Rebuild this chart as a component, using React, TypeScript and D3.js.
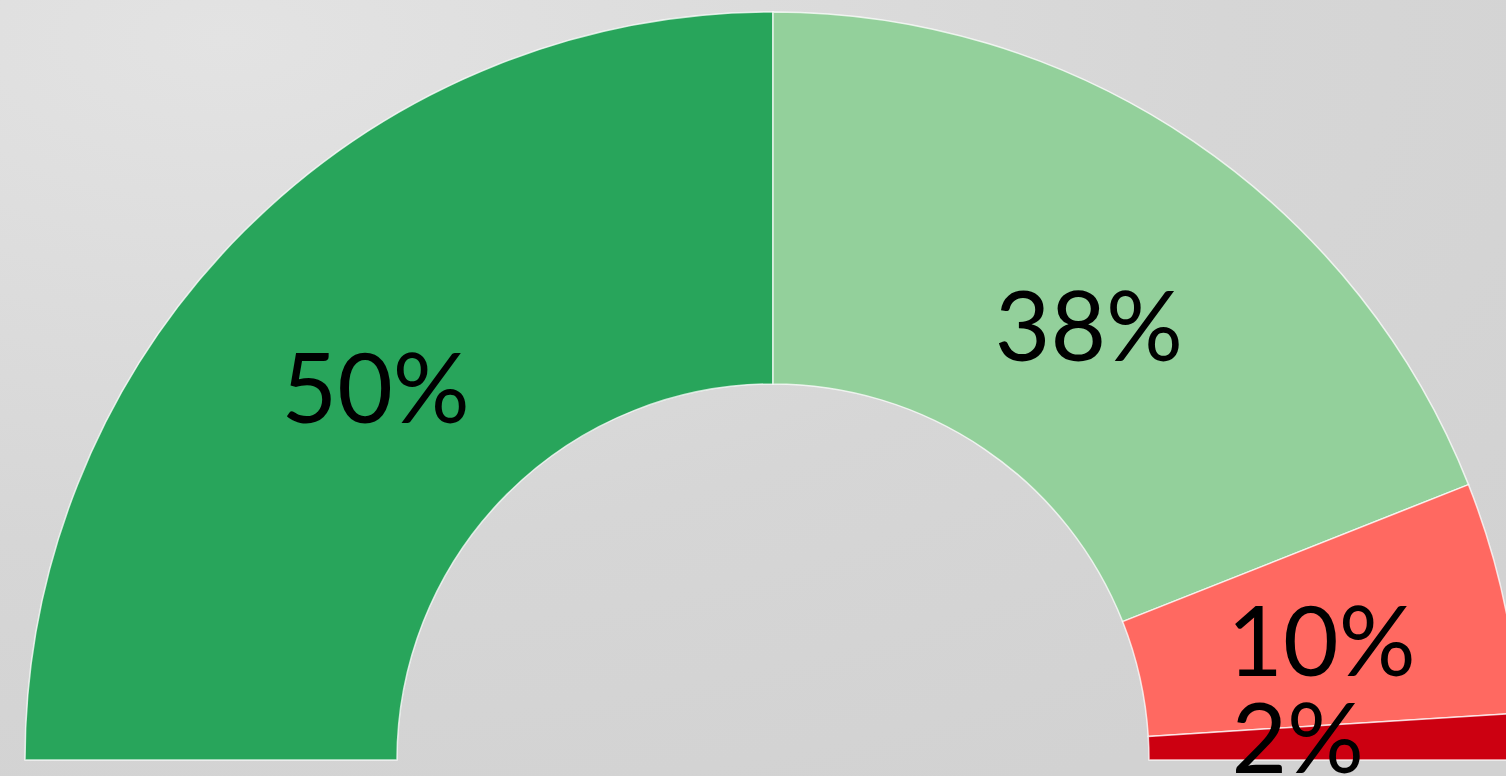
import * as d3 from "d3";

const labels = ["A", "B", "C", "D"];
const values = [50, 38, 10, 2];
const colors = ["#28a55b", "#93d09b", "#ff6961", "#cc0011"];

const width = 1506;
const height = 776;
const cx = 773;
const cy = 760;
const outerR = 748;
const innerR = 376;

export default function App() {
  const total = d3.sum(values);

  const pie = d3.pie<number>()
    .sort(null)
    .startAngle(-Math.PI / 2)
    .endAngle(Math.PI / 2);

  const arcs = pie(values);

  const arc = d3.arc<d3.PieArcDatum<number>>()
    .innerRadius(innerR)
    .outerRadius(outerR);

  // tiny slices get their label pulled in a bit
  const labelArc = d3.arc<d3.PieArcDatum<number>>()
    .innerRadius(innerR - 37)
    .outerRadius(outerR - 37);

  const fmt = (v: number) => `${Math.round((v / total) * 100)}%`;

  return (
    <svg
      width={width}
      height={height}
      style={{ position: "absolute", left: 0, top: 0, display: "block" }}
    >
      <defs>
        <radialGradient id="bg" cx="0.15" cy="0.05" r="1.1">
          <stop offset="0" stopColor="#e3e3e3" />
          <stop offset="0.6" stopColor="#d6d6d6" />
          <stop offset="1" stopColor="#d2d2d2" />
        </radialGradient>
      </defs>
      <rect width={width} height={height} fill="url(#bg)" />

      <g transform={`translate(${cx},${cy})`}>
        {/* slices */}
        {arcs.map((a, i) => (
          <path
            key={labels[i]}
            d={arc(a) ?? ""}
            fill={colors[i]}
            stroke="#ffffff"
            strokeOpacity={0.75}
            strokeWidth={1.5}
          />
        ))}

        {/* labels */}
        {arcs.map((a, i) => {
          const small = a.data / total < 0.05;
          const [x, y] = small ? labelArc.centroid(a) : arc.centroid(a);
          return (
            <text
              key={"t" + labels[i]}
              x={x}
              y={y * 0.92 + 4}
              textAnchor="middle"
              dominantBaseline="middle"
              fontFamily="Lato, 'Open Sans', sans-serif"
              fontSize={96}
              fill="#000"
            >
              {fmt(a.data)}
            </text>
          );
        })}
      </g>
    </svg>
  );
}
